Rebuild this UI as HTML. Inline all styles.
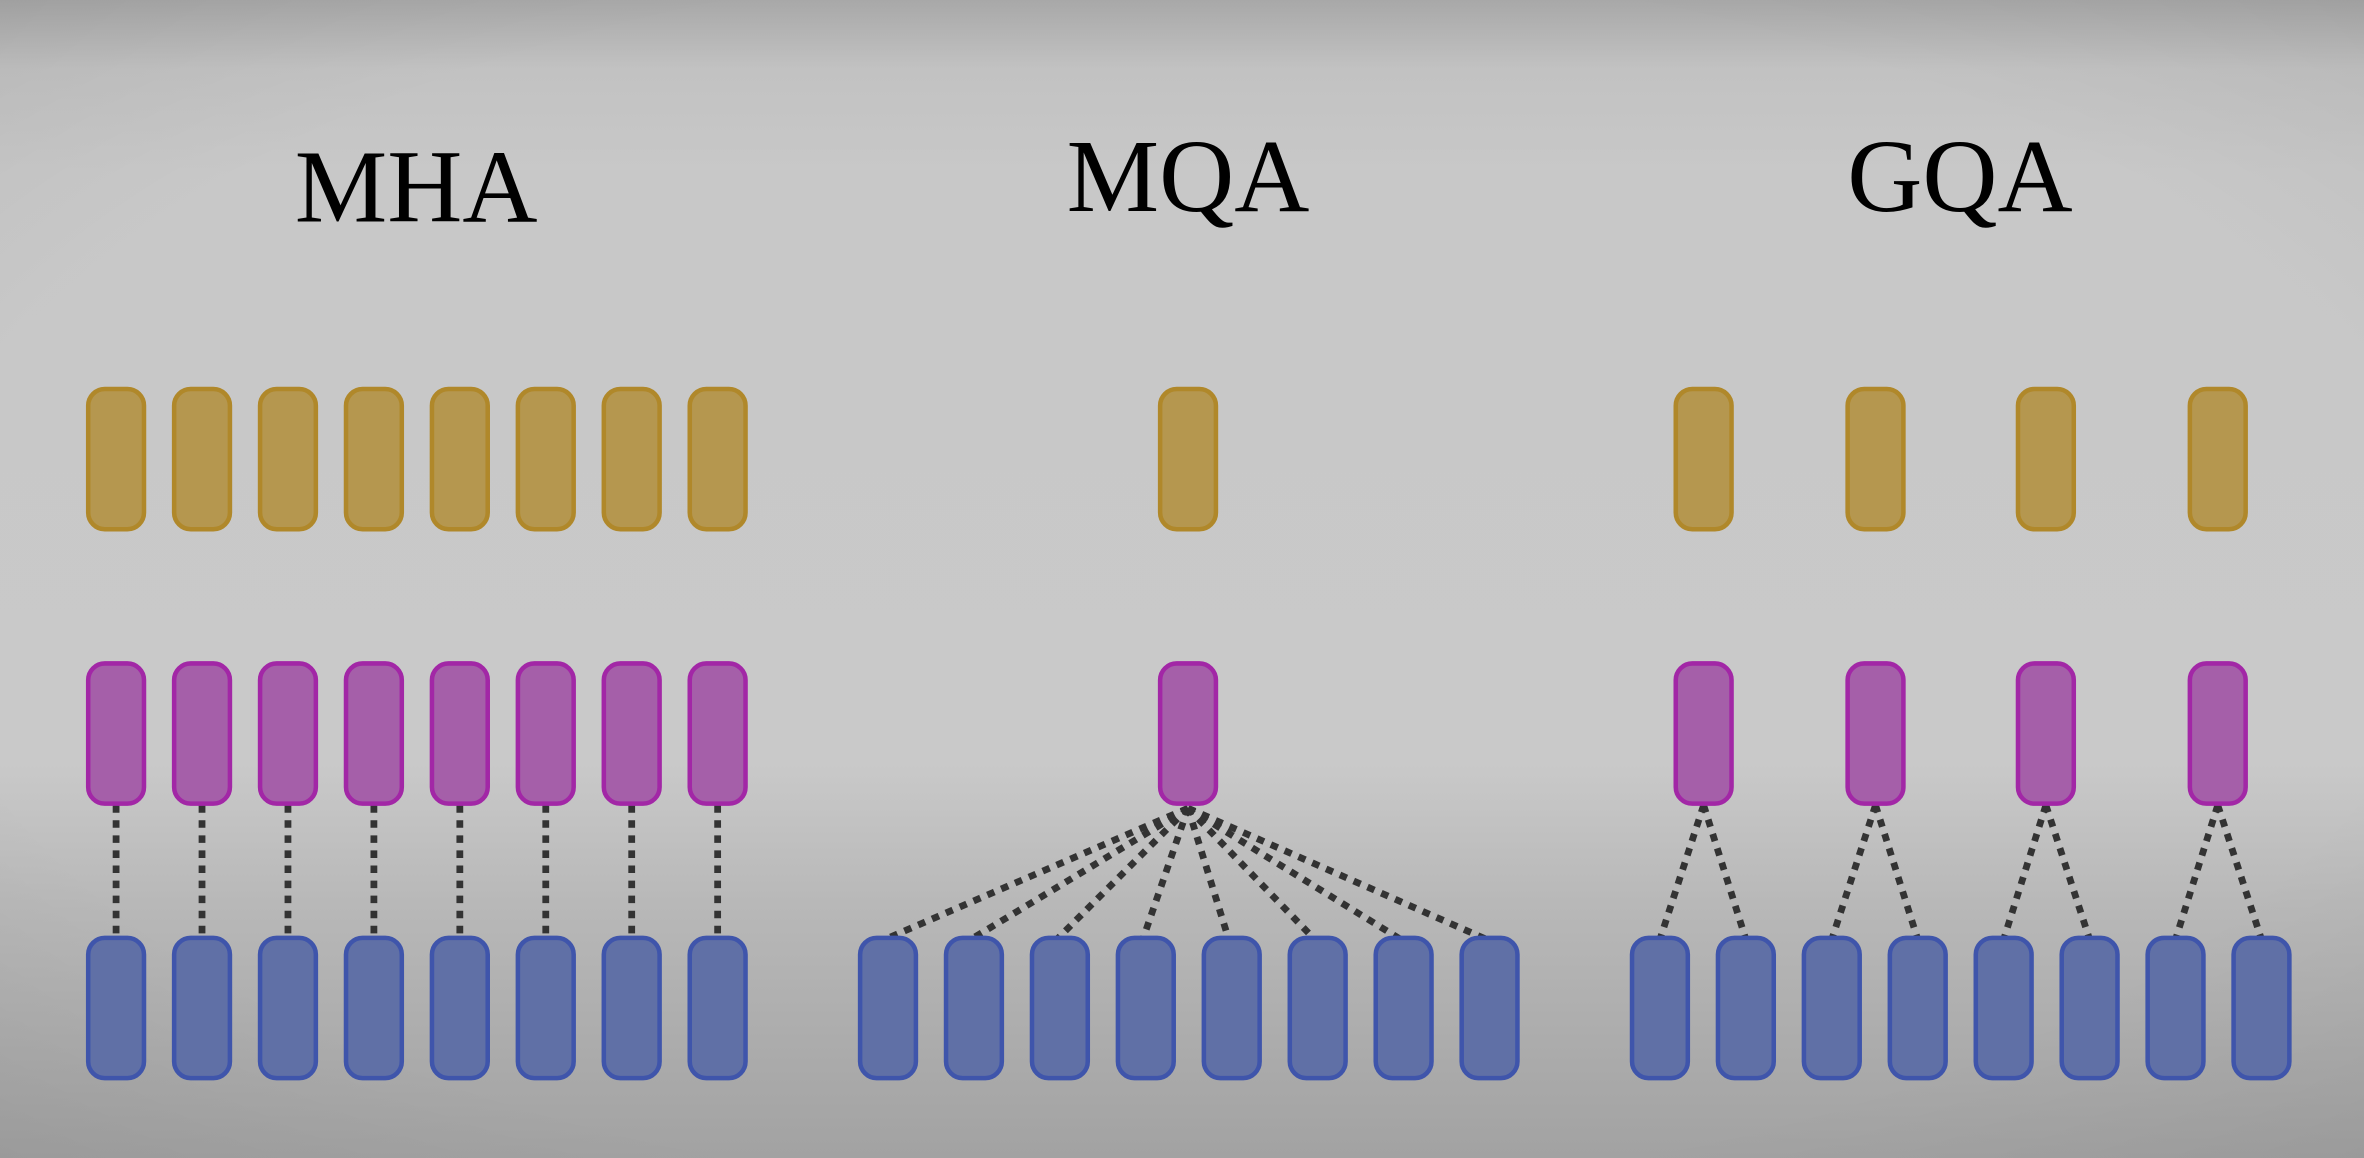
<!DOCTYPE html>
<html><head><meta charset="utf-8"><style>
html,body{margin:0;padding:0;width:2364px;height:1158px;overflow:hidden}
svg{display:block}
</style></head><body>
<svg width="2364" height="1158" viewBox="0 0 1568 768" preserveAspectRatio="none" xmlns="http://www.w3.org/2000/svg">
<defs>
<linearGradient id="bg" x1="0" y1="0" x2="0" y2="1">
<stop offset="0" stop-color="#a8a8a8"/>
<stop offset="0.06" stop-color="#c2c2c2"/>
<stop offset="0.15" stop-color="#c8c8c8"/>
<stop offset="0.66" stop-color="#c9c9c9"/>
<stop offset="0.78" stop-color="#b8b8b8"/>
<stop offset="1" stop-color="#a2a2a2"/>
</linearGradient>
<radialGradient id="vig" cx="0.5" cy="0.5" r="0.75">
<stop offset="0.7" stop-color="#000" stop-opacity="0"/>
<stop offset="1" stop-color="#000" stop-opacity="0.06"/>
</radialGradient>
</defs>
<rect width="1568" height="768" fill="url(#bg)"/>
<rect width="1568" height="768" fill="url(#vig)"/>
<g font-family="Liberation Serif, serif" font-size="69" fill="#000" text-anchor="middle">
<text x="276" y="147">MHA</text>
<text x="788" y="140">MQA</text>
<text x="1300" y="140">GQA</text>
</g>
<g stroke="#333" stroke-width="4.5" stroke-dasharray="5 5" fill="none" id="lines"></g>
<g id="boxes"></g>
<script>
var ns="http://www.w3.org/2000/svg";
var L=document.getElementById('lines'),B=document.getElementById('boxes');
function box(cx,y,t){var r=document.createElementNS(ns,'rect');r.setAttribute('x',cx-18.5);r.setAttribute('y',y);r.setAttribute('width',37);r.setAttribute('height',93);r.setAttribute('rx',11);
var c={y:['#b5974f','#b0882a'],p:['#a55fa9','#a227a6'],b:['#6070a6','#3f55ab']}[t];
r.setAttribute('fill',c[0]);r.setAttribute('stroke',c[1]);r.setAttribute('stroke-width',3);B.appendChild(r);}
function line(x1,y1,x2,y2){var l=document.createElementNS(ns,'line');l.setAttribute('x1',x1);l.setAttribute('y1',y1);l.setAttribute('x2',x2);l.setAttribute('y2',y2);L.appendChild(l);}
var i;
for(i=0;i<8;i++){var cx=77+57*i;box(cx,258,'y');box(cx,440,'p');box(cx,622,'b');line(cx,534,cx,622);}
box(788,258,'y');box(788,440,'p');
for(i=0;i<8;i++){var bx=589+57*i;box(bx,622,'b');line(788,536,bx-2,623);}
var g=[1130,1244,1357,1471];
for(i=0;i<4;i++){box(g[i],258,'y');box(g[i],440,'p');}
for(i=0;i<8;i++){var bx=1101+57*i;box(bx,622,'b');line(g[Math.floor(i/2)],534,bx,623);}
</script>
</svg>
</body></html>
